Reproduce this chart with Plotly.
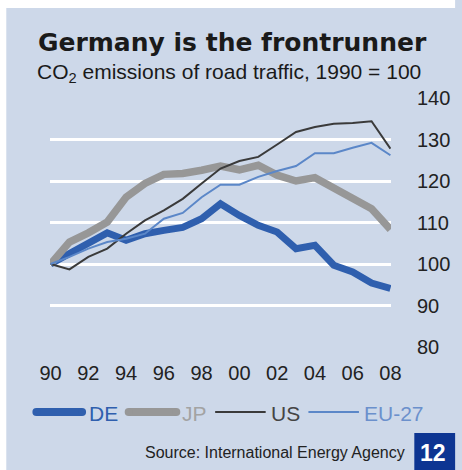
import plotly.graph_objects as go

years = list(range(1990, 2009))
de = [100, 102.5, 104.9, 107.5, 105.7, 107.3, 108.1, 108.8, 110.9, 114.5, 111.7,
      109.3, 107.7, 103.7, 104.5, 99.7, 98.1, 95.4, 94.1]
jp = [100, 105.3, 107.5, 110.1, 116.1, 119.4, 121.6, 121.8, 122.6, 123.6, 122.7,
      123.8, 121.4, 120.0, 120.8, 118.2, 116.1, 113.3, 108.3]
us = [100, 98.7, 101.7, 103.7, 107.3, 110.5, 112.9, 115.7, 119.4, 123.0, 124.8,
      125.8, 128.8, 131.8, 133.0, 133.8, 134.0, 134.4, 127.8]
eu = [100, 101.7, 103.7, 105.3, 106.1, 107.3, 110.9, 112.3, 116.1, 119.1, 119.1,
      121.0, 122.4, 123.6, 126.7, 126.7, 128.0, 129.2, 126.2]

series_names = ["DE", "JP", "US", "EU-27"]
x_tickvals = [1990, 1992, 1994, 1996, 1998, 2000, 2002, 2004, 2006, 2008]
x_ticktext = ["90", "92", "94", "96", "98", "00", "02", "04", "06", "08"]
y_tickvals = [80, 90, 100, 110, 120, 130, 140]

BG = "#cdd8e9"
FONT = "Liberation Sans, Arial, sans-serif"

# style per series: line colour, width, legend text colour, legend line width, legend x-extent (px), text x (px)
styles = [
    ("#2f5fae", 7, "#2f5fae", 8, (32, 87), 90),
    ("#979797", 7.5, "#a3a3a3", 8, (127, 184), 186),
    ("#3a3a3a", 2, "#444444", 2, (220, 272), 277),
    ("#5b87c8", 2, "#6b90cc", 2, (316, 368), 373),
]

W, H = 462, 470
ml, mr, mt, mb = 50, 61, 98, 123
pw, ph = W - ml - mr, H - mt - mb


def px_x(p):
    return (p - ml) / pw


def px_y(p):
    return (H - mb - p) / ph


fig = go.Figure()
for name, vals, st in zip(series_names, [de, jp, us, eu], styles):
    color, w = st[0], st[1]
    fig.add_trace(go.Scatter(
        x=years, y=vals, mode="lines", name=name, showlegend=False,
        line=dict(color=color, width=w), hoverinfo="skip",
    ))

shapes = [
    dict(type="rect", xref="paper", yref="paper", layer="below",
         x0=px_x(-5), x1=px_x(W + 5), y0=px_y(8), y1=px_y(-5),
         fillcolor="white", line=dict(width=0)),
    dict(type="rect", xref="paper", yref="paper", layer="below",
         x0=px_x(-5), x1=px_x(5), y0=px_y(H + 5), y1=px_y(-5),
         fillcolor="white", line=dict(width=0)),
    dict(type="rect", xref="paper", yref="paper", layer="above",
         x0=px_x(425), x1=px_x(W + 5), y0=px_y(H + 5), y1=px_y(433),
         fillcolor="#0d3592", line=dict(width=0)),
]

annotations = [
    dict(text="<b>Germany is the frontrunner</b>", xref="paper", yref="paper",
         x=px_x(36), y=px_y(59), xanchor="left", yanchor="bottom", showarrow=False,
         font=dict(size=25, family="DejaVu Sans, sans-serif", color="#1a1a1a")),
    dict(text="CO<sub>2</sub> emissions of road traffic, 1990 = 100", xref="paper", yref="paper",
         x=px_x(35), y=px_y(88), xanchor="left", yanchor="bottom", showarrow=False,
         font=dict(size=21, family=FONT, color="#1a1a1a")),
    dict(text="Source: International Energy Agency", xref="paper", yref="paper",
         x=px_x(417), y=px_y(452), xanchor="right", yanchor="middle", showarrow=False,
         font=dict(size=16, family=FONT, color="#222222")),
    dict(text="<b>12</b>", xref="paper", yref="paper",
         x=px_x(444), y=px_y(453), xanchor="center", yanchor="middle", showarrow=False,
         font=dict(size=23, family=FONT, color="white")),
]

# legend (drawn manually to get the long, round-capped swatches of the original)
LY = 412
for name, st in zip(series_names, styles):
    color, _, tcolor, lw, (lx0, lx1), tx = st
    r = lw / 2
    if lw > 4:
        shapes.append(dict(type="line", xref="paper", yref="paper",
                           x0=px_x(lx0 + r), x1=px_x(lx1 - r), y0=px_y(LY), y1=px_y(LY),
                           line=dict(color=color, width=lw)))
        for cx in (lx0 + r, lx1 - r):
            shapes.append(dict(type="circle", xref="paper", yref="paper",
                               xsizemode="pixel", ysizemode="pixel",
                               xanchor=px_x(cx), yanchor=px_y(LY),
                               x0=-r, x1=r, y0=-r, y1=r,
                               fillcolor=color, line=dict(width=0)))
    else:
        shapes.append(dict(type="line", xref="paper", yref="paper",
                           x0=px_x(lx0), x1=px_x(lx1), y0=px_y(LY), y1=px_y(LY),
                           line=dict(color=color, width=lw)))
    annotations.append(dict(text=name, xref="paper", yref="paper",
                            x=px_x(tx), y=px_y(LY + 1), xanchor="left", yanchor="middle",
                            showarrow=False, xshift=-2,
                            font=dict(size=21, family=FONT, color=tcolor)))

fig.update_layout(
    width=W, height=H,
    margin=dict(l=ml, r=mr, t=mt, b=mb),
    paper_bgcolor=BG, plot_bgcolor=BG,
    font=dict(family=FONT, color="#222222"),
    showlegend=False,
    hovermode=False,
    xaxis=dict(
        range=[1989.97, 2008.03], tickvals=x_tickvals, ticktext=x_ticktext,
        showgrid=False, zeroline=False, showline=False, ticks="",
        tickfont=dict(size=20, color="#222222"), ticklabelstandoff=12,
    ),
    yaxis=dict(
        range=[80, 140], tickvals=y_tickvals, side="right",
        showgrid=True, gridcolor="white", gridwidth=2.5, zeroline=False,
        showline=False, ticks="", tickfont=dict(size=20, color="#222222"),
        ticklabelstandoff=25,
    ),
    shapes=shapes,
    annotations=annotations,
)

fig.write_html(
    "out.html",
    config={"displayModeBar": False},
    post_script="document.body.style.margin='0';document.body.style.overflow='hidden';",
)
